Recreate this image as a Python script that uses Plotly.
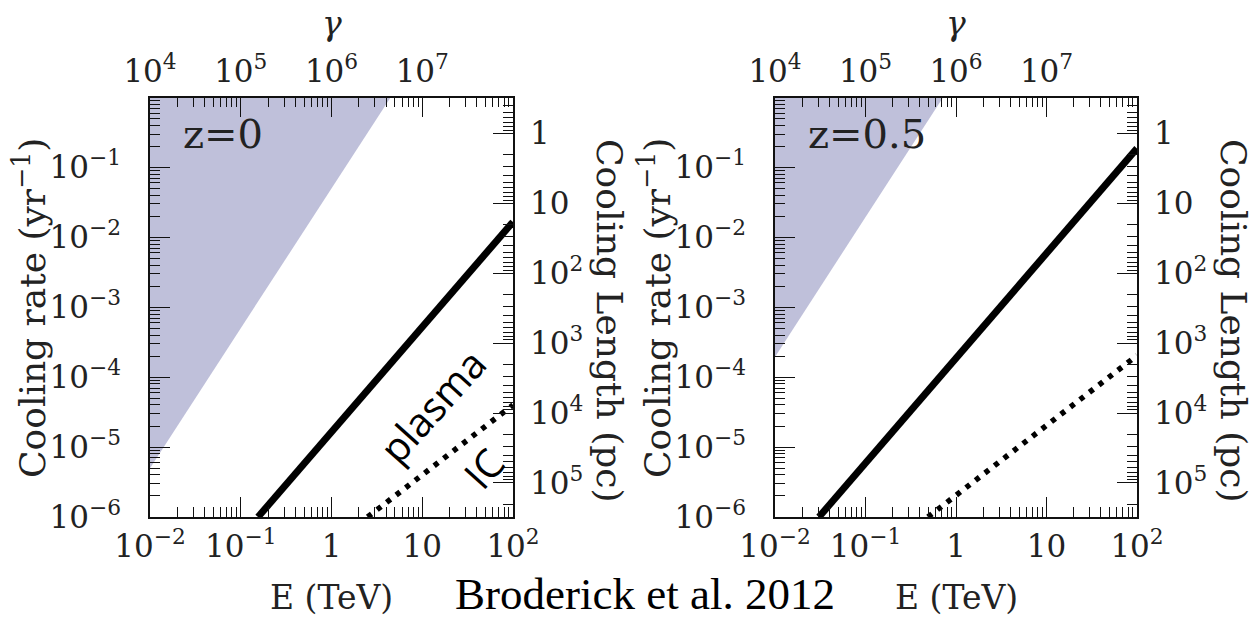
import numpy as np
import plotly.graph_objects as go

# ---- data (log-log straight lines given by their end points) ----
# z = 0 panel
shade_E_z0 = [0.01, 4.47, 0.01]
shade_rate_z0 = [5.0e-6, 1.0, 1.0]
plasma_E_z0 = [0.155, 100.0]
plasma_rate_z0 = [1.0e-6, 1.66e-2]
ic_E_z0 = [2.5, 100.0]
ic_rate_z0 = [1.0e-6, 4.0e-5]

# z = 0.5 panel
shade_E_z05 = [0.01, 0.718, 0.01]
shade_rate_z05 = [1.95e-4, 1.0, 1.0]
plasma_E_z05 = [0.0306, 100.0]
plasma_rate_z05 = [1.0e-6, 0.187]
ic_E_z05 = [0.49, 100.0]
ic_rate_z05 = [1.0e-6, 2.04e-4]

panel_labels = ["z=0", "z=0.5"]

# axis ticks
E_ticks = [0.01, 0.1, 1, 10, 100]
E_ticktext = ["10<sup>−2</sup>", "10<sup>−1</sup>", "1", "10", "10<sup>2</sup>"]
gamma_ticks = [1e4, 1e5, 1e6, 1e7, 1e8]
gamma_ticktext = ["10<sup>4</sup>", "10<sup>5</sup>", "10<sup>6</sup>", "10<sup>7</sup>", ""]
rate_ticks = [1e-6, 1e-5, 1e-4, 1e-3, 1e-2, 1e-1]
rate_ticktext = ["10<sup>−6</sup>", "10<sup>−5</sup>", "10<sup>−4</sup>",
                 "10<sup>−3</sup>", "10<sup>−2</sup>", "10<sup>−1</sup>"]
length_ticks = [1, 10, 1e2, 1e3, 1e4, 1e5]
length_ticktext = ["1", "10", "10<sup>2</sup>", "10<sup>3</sup>", "10<sup>4</sup>", "10<sup>5</sup>"]

PC_PER_LIGHTYEAR = 0.3066   # cooling length = c / rate
GAMMA_PER_TEV = 1e6         # top axis scale factor

E_LOG_RANGE = [-2, 2]
RATE_LOG_RANGE = [-6, 0]

W, H = 1253, 620


def minor_vals(lo, hi):
    return [k * 10.0 ** n for n in range(lo, hi) for k in range(2, 10)]


def px(xp, yp):
    """pixel position -> paper coordinates"""
    return xp / W, 1 - yp / H


SHADE = "#bfc0da"
INK = "#222"
TICK_FONT = dict(family="DejaVu Serif", size=31, color=INK)
XTITLE_FONT = dict(family="DejaVu Serif", size=33, color=INK)
YTITLE_FONT = dict(family="DejaVu Serif", size=36, color=INK)
AXIS = dict(showline=True, linecolor="#111", linewidth=1.5, ticks="inside",
            ticklen=20, tickwidth=1, tickcolor="#111", showgrid=False,
            zeroline=False, type="log", tickfont=TICK_FONT, automargin=False)


def minor(vals):
    return dict(tickvals=vals, ticks="inside", ticklen=10, tickwidth=1,
                tickcolor="#111", showgrid=False)


fig = go.Figure()

panels = [
    dict(sx=shade_E_z0, sy=shade_rate_z0, px=plasma_E_z0, py=plasma_rate_z0,
         ix=ic_E_z0, iy=ic_rate_z0, dom=[150 / W, 513 / W]),
    dict(sx=shade_E_z05, sy=shade_rate_z05, px=plasma_E_z05, py=plasma_rate_z05,
         ix=ic_E_z05, iy=ic_rate_z05, dom=[775 / W, 1137 / W]),
]
ydom = [1 - 517 / H, 1 - 97.5 / H]

layout = {}
annotations = []
for i, p in enumerate(panels):
    xb = f"x{2 * i + 1 if i else ''}"   # bottom E axis
    xt = f"x{2 * i + 2}"                 # top gamma axis
    yl = f"y{2 * i + 1 if i else ''}"   # left rate axis
    yr = f"y{2 * i + 2}"                 # right length axis

    fig.add_trace(go.Scatter(x=p["sx"], y=p["sy"], fill="toself", fillcolor=SHADE,
                             mode="lines", line=dict(width=0), hoverinfo="skip",
                             showlegend=False, xaxis=xb, yaxis=yl))
    fig.add_trace(go.Scatter(x=p["px"], y=p["py"], mode="lines",
                             line=dict(color="black", width=7), showlegend=False,
                             xaxis=xb, yaxis=yl))
    fig.add_trace(go.Scatter(x=p["ix"], y=p["iy"], mode="lines",
                             line=dict(color="black", width=5.5, dash="5px,7px"),
                             showlegend=False, xaxis=xb, yaxis=yl))
    # invisible trace so the secondary axes get a subplot
    fig.add_trace(go.Scatter(x=[1e5], y=[10], mode="markers", marker=dict(opacity=0),
                             hoverinfo="skip", showlegend=False, xaxis=xt, yaxis=yr))

    layout["xaxis" + xb[1:]] = dict(
        AXIS, domain=p["dom"], anchor=yl, range=E_LOG_RANGE,
        tickmode="array", tickvals=E_ticks, ticktext=E_ticktext,
        ticklabelstandoff=1, minor=minor(minor_vals(-2, 2)))
    layout["xaxis" + xt[1:]] = dict(
        AXIS, overlaying=xb, anchor=yl, side="top",
        range=[E_LOG_RANGE[0] + np.log10(GAMMA_PER_TEV), E_LOG_RANGE[1] + np.log10(GAMMA_PER_TEV)],
        tickmode="array", tickvals=gamma_ticks, ticktext=gamma_ticktext,
        ticklabelstandoff=1, minor=minor(minor_vals(4, 8)))
    layout["yaxis" + yl[1:]] = dict(
        AXIS, domain=ydom, anchor=xb, range=RATE_LOG_RANGE,
        tickmode="array", tickvals=rate_ticks, ticktext=rate_ticktext,
        ticklabelstandoff=21, minor=minor(minor_vals(-6, 0)))
    lr = [np.log10(PC_PER_LIGHTYEAR) - RATE_LOG_RANGE[0],
          np.log10(PC_PER_LIGHTYEAR) - RATE_LOG_RANGE[1]]
    layout["yaxis" + yr[1:]] = dict(
        AXIS, overlaying=yl, anchor=xb, side="right", range=lr,
        tickmode="array", tickvals=length_ticks, ticktext=length_ticktext,
        ticklabelstandoff=9, minor=minor(minor_vals(-1, 6)))

    # axis titles
    x0, x1 = p["dom"][0] * W, p["dom"][1] * W
    xc = (x0 + x1) / 2
    for text, (ax, ay), ang, font in [
        ("E (TeV)", (xc, 597), 0, XTITLE_FONT),
        ("<i>γ</i>", (xc, 24), 0, XTITLE_FONT),
        ("Cooling rate (yr<sup>−1</sup>)", (x0 - 120, 308), -90, YTITLE_FONT),
        ("Cooling Length (pc)", (x1 + 97, 320), 90, YTITLE_FONT),
    ]:
        qx, qy = px(ax, ay)
        annotations.append(dict(text=text, xref="paper", yref="paper", x=qx, y=qy,
                                xanchor="center", yanchor="middle", textangle=ang,
                                showarrow=False, font=font))

    annotations.append(dict(text=panel_labels[i], xref=f"{xb} domain", yref=f"{yl} domain",
                            x=0.085, y=0.913, xanchor="left", yanchor="middle",
                            showarrow=False,
                            font=dict(family="DejaVu Serif", size=40, color=INK)))

# curve labels on the z = 0 panel
for text, (ax, ay) in [("plasma", (432, 405)), ("IC", (483, 468))]:
    annotations.append(dict(text=text, xref="x domain", yref="y domain",
                            x=(ax - 150) / 363, y=(517 - ay) / 419.5,
                            xanchor="center", yanchor="middle",
                            textangle=-48, showarrow=False,
                            font=dict(family="Open Sans", size=40, color="black")))

bx, by = px(645, 594)
annotations.append(dict(text="Broderick et al. 2012", xref="paper", yref="paper",
                        x=bx, y=by, xanchor="center", yanchor="middle", showarrow=False,
                        font=dict(family="Liberation Serif", size=45, color="black")))

fig.update_layout(width=W, height=H, margin=dict(l=0, r=0, t=0, b=0),
                  paper_bgcolor="white", plot_bgcolor="white",
                  annotations=annotations, **layout)

fig.write_html("out.html")
